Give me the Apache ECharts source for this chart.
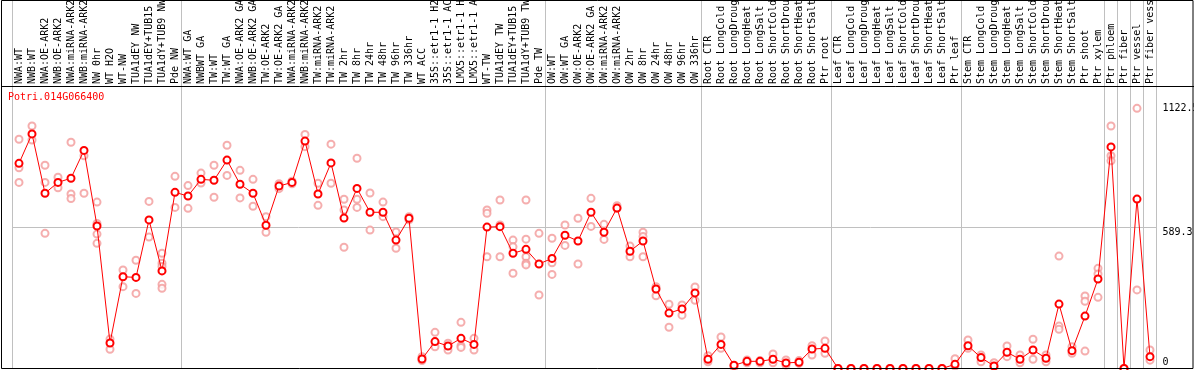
<!DOCTYPE html>
<html>
<head>
<meta charset="utf-8">
<script src="https://cdn.jsdelivr.net/npm/echarts@6/dist/echarts.min.js"></script>
<style>html,body{margin:0;padding:0;background:#fff;}#c{width:1194px;height:370px;}</style>
</head>
<body>
<div id="c"></div>
<script>
var geneName = 'Potri.014G066400';

var categories = [
 'NWA:WT','NWB:WT','NWA:OE-ARK2','NWB:OE-ARK2','NWA:miRNA-ARK2','NWB:miRNA-ARK2','NW 0hr','WT H2O','WT-NW','TUA1dEY NW','TUA1dEY+TUB15 NW','TUA1dY+TUB9 NW','Pde NW',
 'NWA:WT GA','NWBWT GA','TW:WT','TW:WT GA','NWA:OE-ARK2 GA','NWB:OE-ARK2 GA','TW:OE-ARK2','TW:OE-ARK2 GA','NWA:miRNA-ARK2','NWB:miRNA-ARK2','TW:miRNA-ARK2','TW:miRNA-ARK2','TW 2hr','TW 8hr','TW 24hr','TW 48hr','TW 96hr','TW 336hr','WT ACC','35S::etr1-1 H2O','35S::etr1-1 ACC','LMX5::etr1-1 H2O','LMX5::etr1-1 ACC','WT-TW','TUA1dEY TW','TUA1dEY+TUB15 TW','TUA1dY+TUB9 TW','Pde TW',
 'OW:WT','OW:WT GA','OW:OE-ARK2','OW:OE-ARK2 GA','OW:miRNA-ARK2','OW:miRNA-ARK2','OW 2hr','OW 8hr','OW 24hr','OW 48hr','OW 96hr','OW 336hr',
 'Root CTR','Root LongCold','Root LongDrought','Root LongHeat','Root LongSalt','Root ShortCold','Root ShortDrought','Root ShortHeat','Root ShortSalt','Ptr root',
 'Leaf CTR','Leaf LongCold','Leaf LongDrought','Leaf LongHeat','Leaf LongSalt','Leaf ShortCold','Leaf ShortDrought','Leaf ShortHeat','Leaf ShortSalt','Ptr leaf',
 'Stem CTR','Stem LongCold','Stem LongDrought','Stem LongHeat','Stem LongSalt','Stem ShortCold','Stem ShortDrought','Stem ShortHeat','Stem ShortSalt','Ptr shoot','Ptr xylem',
 'Ptr phloem','Ptr fiber','Ptr vessel','Ptr fiber vessel'
];

var groupSizes = [13, 28, 12, 10, 10, 11, 1, 1, 1, 1];

var meanValues = [
 885,1012,756,803,821,941,615,110,396,393,641,421,760,
 744,816,812,899,795,756,618,787,803,981,753,887,649,777,674,674,554,648,41,116,97,130,104,610,612,497,514,451,
 475,575,550,674,588,692,506,550,343,239,257,326,
 40,104,14,31,31,40,24,27,84,87,
 0,0,0,0,0,0,0,0,0,18,
 98,47,11,70,40,80,44,278,77,226,386,
 956,0,731,51
];

var replicateValues = [
 [989,866,803],[1046,986],[877,803,583],[825,780],[976,753,733],[918,756],[718,626,580,540],[127,83],[425,353],[467,324],[721,567],[497,454,440,363,346],[829,695],
 [789,691],[843,800],[877,739],[963,833],[855,736],[816,700],[655,588],[797,776],[808,797],[1010,957],[799,704],[968,799],[730,684,523],[907,730,695],[757,597],[718,655],[589,519],[655,641],[51,34],[156,94],[109,80],[199,98,91],[130,80],[684,670,482],[727,619,482],[554,525,411],[727,558,482,454,447],[583,317],
 [562,456,406],[619,531],[648,451],[734,613],[622,557],[702,691],[528,482],[588,569,482],[353,314],[277,178],[274,230],[352,294],
 [55,29],[136,87],[12,6],[37,25],[25,34],[63,25],[37,15],[34,22],[98,58],[119,66],
 [0,0],[0,0],[0,0],[0,0],[0,0],[0,0],[0,0],[0,0],[0,0],[42,11],
 [123,87],[58,29],[25,8],[97,51],[58,25],[126,40],[58,29],[485,183,169],[94,66],[313,290,75],[432,408,307],
 [1046,918,896],[0,0],[1122.5,339],[80,36]
];

var yTickLabels = [0, 589.3, 1122.5];
var yMax = 1218.8;

var boundaries = [0];
groupSizes.forEach(function (s) { boundaries.push(boundaries[boundaries.length - 1] + s); });

var repData = [];
replicateValues.forEach(function (arr, i) {
  arr.forEach(function (v) { repData.push([i, v]); });
});

var FONT = 'DejaVu Sans Mono';
var gridLineColor = '#c0c0c0';
var splitFn = function (idx) { return boundaries.indexOf(idx) >= 0; };

var chart = echarts.init(document.getElementById('c'), null, {renderer: 'canvas'});
chart.setOption({
  animation: false,
  backgroundColor: '#fff',
  title: {
    text: geneName, left: 8, top: 92, padding: 0,
    textStyle: {color: '#ff0000', fontFamily: FONT, fontSize: 10, fontWeight: 'normal'}
  },
  grid: [
    {left: 12.5, right: 37.5, top: 86, bottom: 1.5, containLabel: false, outerBoundsMode: 'none'},
    {left: 12.5, right: 37.5, top: 0, height: 86, containLabel: false, outerBoundsMode: 'none'}
  ],
  xAxis: [
    {
      type: 'category', gridIndex: 0, data: categories, position: 'top', boundaryGap: true,
      axisLine: {show: false}, axisTick: {show: false},
      axisLabel: {interval: 0, rotate: 90, margin: 2, fontFamily: FONT, fontSize: 10, color: '#000'},
      splitLine: {show: true, interval: splitFn, lineStyle: {color: gridLineColor, width: 1}}
    },
    {
      type: 'category', gridIndex: 1, data: categories, boundaryGap: true,
      axisLine: {show: false}, axisTick: {show: false}, axisLabel: {show: false},
      splitLine: {show: true, interval: splitFn, lineStyle: {color: gridLineColor, width: 1}}
    }
  ],
  yAxis: [
    {
      type: 'value', gridIndex: 0, position: 'right', min: 0, max: yMax,
      axisLine: {show: false}, axisTick: {show: false}, splitLine: {show: false},
      axisLabel: {
        customValues: yTickLabels, margin: 6, fontFamily: FONT, fontSize: 10, color: '#000',
        formatter: function (v) { return v === 0 ? '{z|0}' : String(v); },
        rich: {z: {fontFamily: FONT, fontSize: 10, color: '#000', padding: [0, 0, 13, 0]}}
      }
    },
    {
      type: 'value', gridIndex: 0, position: 'right', min: 0, max: yMax, interval: yMax / 2,
      axisLine: {show: false}, axisTick: {show: false}, axisLabel: {show: false},
      splitLine: {show: true, lineStyle: {color: gridLineColor, width: 1}}
    },
    {type: 'value', gridIndex: 1, show: false}
  ],
  graphic: [
    {type: 'rect', z: 100, silent: true, shape: {x: 1.5, y: 0.5, width: 1191.5, height: 368}, style: {fill: 'none', stroke: '#000', lineWidth: 1}},
    {type: 'line', z: 100, silent: true, shape: {x1: 1, y1: 86.5, x2: 1194, y2: 86.5}, style: {stroke: '#000', lineWidth: 1}}
  ],
  series: [
    {
      type: 'scatter', xAxisIndex: 0, yAxisIndex: 0, data: repData, z: 2,
      symbol: 'emptyCircle', symbolSize: 7,
      itemStyle: {color: '#f29a9a', borderColor: '#f29a9a', borderWidth: 1.3}
    },
    {
      type: 'line', xAxisIndex: 0, yAxisIndex: 0, data: meanValues, z: 3,
      symbol: 'emptyCircle', symbolSize: 7, showAllSymbol: true,
      lineStyle: {color: '#ff0000', width: 1},
      itemStyle: {color: '#ff0000', borderColor: '#ff0000', borderWidth: 1.5}
    }
  ]
});
</script>
</body>
</html>
